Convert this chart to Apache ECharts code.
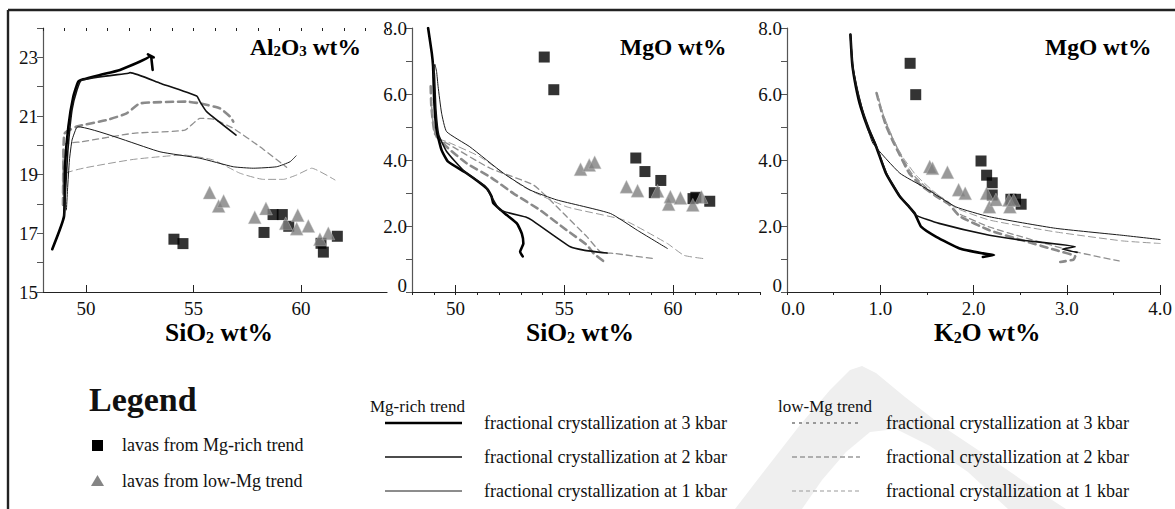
<!DOCTYPE html>
<html><head><meta charset="utf-8">
<script src="https://cdn.jsdelivr.net/npm/echarts@6/dist/echarts.min.js"></script>
<style>html,body{margin:0;padding:0;background:#fff}#c{width:1175px;height:509px}</style>
</head><body><div id="c"></div>
<script>
// ---------------- DATA ----------------
// Panel 1: SiO2 vs Al2O3
const alLavasMgRich = [[54.09,16.80],[54.51,16.65],[58.28,17.03],[58.70,17.64],[59.13,17.64],[59.43,17.24],[60.93,16.66],[61.04,16.36],[61.69,16.90]];
const alLavasLowMg = [[55.75,18.39],[56.17,17.93],[56.40,18.10],[57.85,17.55],[58.37,17.85],[59.29,17.34],[59.80,17.16],[59.85,17.62],[60.34,17.25],[60.88,16.80],[61.27,17.00]];
const alFc3MgRich = [[48.43,16.46],[48.98,17.59],[49.02,19.27],[49.18,20.64],[49.41,21.66],[49.64,22.17],[49.87,22.25],[50.65,22.40],[51.58,22.57],[52.98,23.05],[52.88,23.10],[53.15,23.00],[53.03,23.04],[53.10,22.57]];
const alFc2MgRich = [[48.98,17.59],[49.05,18.48],[49.16,19.84],[49.35,21.21],[49.58,21.89],[49.80,22.23],[51.97,22.46],[52.05,22.48],[53.44,22.12],[55.15,21.68],[55.30,21.49],[55.61,21.15],[56.98,20.35]];
const alFc1MgRich = [[49.09,17.80],[49.14,18.48],[49.23,19.50],[49.35,20.18],[49.55,20.59],[49.63,20.63],[53.44,19.78],[55.30,19.56],[56.85,19.27],[57.78,19.22],[58.87,19.27],[59.49,19.44],[59.77,19.64]];
const alFc3LowMg = [[48.93,17.97],[48.95,19.50],[49.00,20.40],[49.57,20.64],[50.96,20.86],[51.89,21.09],[52.51,21.43],[54.68,21.49],[55.30,21.43],[56.23,21.26],[56.70,20.98],[56.85,20.81]];
const alFc2LowMg = [[48.93,17.97],[48.94,20.01],[49.80,20.12],[52.20,20.41],[54.60,20.52],[55.30,20.92],[55.92,20.89],[56.85,20.58],[58.09,19.95],[59.33,19.25]];
const alFc1LowMg = [[48.93,17.97],[48.94,18.99],[49.87,19.22],[52.20,19.52],[54.53,19.67],[55.92,19.50],[57.16,19.05],[58.25,18.84],[59.18,18.84],[59.80,18.99],[60.50,19.22],[61.58,18.82]];

// Panel 2: SiO2 vs MgO
const mgLavasMgRich = [[54.08,7.12],[54.52,6.13],[58.29,4.06],[58.71,3.65],[59.44,3.38],[59.14,3.01],[60.92,2.83],[61.05,2.87],[61.69,2.75]];
const mgLavasLowMg = [[55.75,3.72],[56.15,3.85],[56.40,3.93],[57.86,3.19],[58.37,3.07],[59.29,3.06],[59.80,2.66],[59.88,2.89],[60.34,2.85],[60.91,2.64],[61.31,2.88]];
const mgFc3MgRich = [[48.74,8.0],[48.91,7.24],[48.97,6.83],[49.02,5.82],[49.13,4.91],[49.36,4.30],[49.66,3.95],[50.51,3.60],[51.43,3.14],[51.66,2.89],[51.74,2.69],[52.36,2.33],[52.82,2.08],[53.05,1.77],[53.12,1.47],[52.97,1.22],[53.09,1.08]];
const mgFc2MgRich = [[48.97,6.94],[49.03,6.60],[49.10,5.52],[49.23,4.76],[49.60,4.25],[50.43,3.64],[51.36,3.21],[51.74,2.79],[52.05,2.48],[53.28,2.26],[53.51,2.18],[55.28,1.37],[55.89,1.27],[56.97,1.18]];
const mgFc1MgRich = [[48.97,6.50],[49.05,6.90],[49.13,6.68],[49.20,6.23],[49.36,5.42],[49.59,4.86],[50.66,4.40],[52.20,3.60],[53.43,3.09],[54.66,2.79],[57.12,2.38],[58.36,1.87],[59.74,1.32]];
const mgFc3LowMg = [[48.86,6.23],[48.89,5.62],[49.05,4.81],[49.59,4.40],[50.51,3.90],[51.59,3.49],[52.66,2.99],[53.89,2.48],[55.12,1.87],[56.05,1.42],[56.35,1.17],[56.79,0.94]];
const mgFc2LowMg = [[48.88,5.90],[48.95,5.20],[49.10,4.70],[49.59,4.51],[51.59,3.75],[53.59,3.24],[54.82,2.48],[55.12,2.28],[56.05,1.67],[56.66,1.22],[57.28,1.17],[59.12,1.01]];
const mgFc1LowMg = [[48.90,5.60],[49.00,5.00],[49.20,4.65],[49.59,4.56],[51.12,4.10],[53.12,3.19],[55.12,2.58],[57.74,2.18],[59.74,1.47],[60.51,1.11],[61.43,1.01]];

// Panel 3: K2O vs MgO
const kLavasMgRich = [[1.32,6.93],[1.38,5.98],[2.08,3.97],[2.14,3.54],[2.20,3.31],[2.20,2.94],[2.40,2.81],[2.45,2.81],[2.51,2.66]];
const kLavasLowMg = [[1.53,3.80],[1.56,3.75],[1.72,3.63],[1.84,3.10],[1.91,2.99],[2.14,2.99],[2.17,2.58],[2.24,2.80],[2.38,2.79],[2.39,2.58],[2.43,2.79]];
const kFc3MgRich = [[0.68,7.80],[0.70,6.90],[0.74,6.20],[0.79,5.60],[0.87,4.95],[0.95,4.45],[1.06,3.60],[1.21,2.89],[1.31,2.58],[1.37,2.38],[1.44,1.97],[1.60,1.67],[1.85,1.32],[2.10,1.17],[2.22,1.12],[2.10,1.06]];
const kFc2MgRich = [[0.68,7.80],[0.70,6.90],[0.745,6.20],[0.80,5.60],[0.88,4.95],[0.96,4.40],[1.07,3.58],[1.20,2.95],[1.30,2.62],[1.38,2.33],[1.63,2.08],[2.17,1.72],[2.52,1.57],[3.09,1.37],[2.95,1.30],[3.11,1.20]];
const kFc1MgRich = [[0.68,7.80],[0.71,6.80],[0.76,6.10],[0.84,5.20],[0.92,4.51],[1.21,3.60],[1.46,3.19],[1.81,2.58],[2.17,2.28],[2.88,1.93],[3.59,1.72],[4.00,1.59]];
const kFc3LowMg = [[0.96,6.03],[1.01,5.50],[1.06,5.05],[1.13,4.60],[1.21,4.15],[1.31,3.60],[1.45,3.20],[1.60,2.90],[1.74,2.65],[1.85,2.30],[2.17,1.87],[2.52,1.57],[2.88,1.27],[3.09,1.08],[3.07,0.98],[2.93,0.91]];
const kFc2LowMg = [[0.97,5.95],[1.02,5.45],[1.08,5.00],[1.15,4.55],[1.22,4.15],[1.33,3.62],[1.50,3.15],[1.74,2.70],[1.81,2.42],[2.17,1.97],[2.52,1.67],[3.09,1.22],[3.56,0.94]];
const kFc1LowMg = [[0.98,5.90],[1.03,5.40],[1.10,4.90],[1.17,4.45],[1.25,4.05],[1.38,3.55],[1.55,3.10],[1.81,2.55],[2.17,2.18],[2.88,1.82],[3.59,1.55],[4.00,1.47]];

// tick labels
const siTickLabels = [50,55,60];
const alTickLabels = [15,17,19,21,23];
const mgTickLabels = [0,2,4,6,8];
const kTickLabels = [0,1,2,3,4];

// texts
const panelTitles = [['Al','2','O','3',' wt%'],['MgO wt%'],['MgO wt%']];
const axisNames = [['SiO','2',' wt%'],['SiO','2',' wt%'],['K','2','O wt%']];
const legendTitle = 'Legend';
const pointLegend = ['lavas from Mg-rich trend','lavas from low-Mg trend'];
const trendHeads = ['Mg-rich trend','low-Mg trend'];
const fcLabels = ['fractional crystallization at 3 kbar','fractional crystallization at 2 kbar','fractional crystallization at 1 kbar'];

// ---------------- STYLE ----------------
const FONT = "'Liberation Serif','Times New Roman',serif";
const solidStyles = [{width:2.6,color:'#000'},{width:1.6,color:'#111'},{width:1,color:'#1a1a1a'}];
const dashStyles = [{width:2.6,color:'#8a8a8a',type:[7,5]},{width:1.3,color:'#8f8f8f',type:[6,4]},{width:1,color:'#9a9a9a',type:[7,4]}];

const grids = [
  {left:43, top:28, width:344, height:264},
  {left:412, top:28, width:348, height:264},
  {left:787, top:28, width:375, height:264}
];

const TICKFS = 19;
const labelRich = {
  n:{fontFamily:FONT, fontSize:TICKFS, color:'#111'},
  z:{fontFamily:FONT, fontSize:TICKFS, color:'#111', padding:[0,0,14,0]},
  zx:{fontFamily:FONT, fontSize:TICKFS, color:'#111', padding:[0,0,0,12]}
};

function mainX(g, min, max, interval, majorTicks, fmt){
  return {type:'value', gridIndex:g, min, max, interval,
    axisLine:{show:true, onZero:false, lineStyle:{color:'#222', width:1.2}},
    axisTick:{show:true, inside:true, length:7, customValues:majorTicks, lineStyle:{color:'#222'}},
    axisLabel:{show:true, margin:7, formatter:fmt, fontFamily:FONT, fontSize:TICKFS, color:'#111', rich:labelRich, showMinLabel:true, showMaxLabel:true, hideOverlap:false},
    splitLine:{show:false}};
}
function minorX(g, min, max, interval){
  return {type:'value', gridIndex:g, min, max, interval,
    axisLine:{show:false}, axisTick:{show:true, inside:true, length:3, lineStyle:{color:'#222'}},
    axisLabel:{show:false}, splitLine:{show:false}};
}
function mainY(g, min, max, fmt){
  return {type:'value', gridIndex:g, min, max, interval:1,
    axisLine:{show:true, onZero:false, lineStyle:{color:'#555', width:1.2}},
    axisTick:{show:true, inside:false, length:6, lineStyle:{color:'#555'}},
    axisLabel:{show:true, margin:5, formatter:fmt, fontFamily:FONT, fontSize:TICKFS, color:'#111', rich:labelRich, showMinLabel:true, showMaxLabel:true, hideOverlap:false},
    splitLine:{show:false}};
}

const siFmt = v => siTickLabels.includes(v) ? '{n|'+v+'}' : '';
const kFmt = v => kTickLabels.includes(v) ? (v===0 ? '{zx|0.0}' : '{n|'+v.toFixed(1)+'}') : '';
const alFmt = v => alTickLabels.includes(v) ? '{n|'+v+'}' : '';
const mgFmt = v => mgTickLabels.includes(v) ? (v===0 ? '{z|0}' : '{n|'+v.toFixed(1)+'}') : '';

const xAxis = [
  mainX(0,48,64,1,[50,55,60],siFmt),
  minorX(0,48,64,1),
  mainX(1,48,64,1,[50,55,60],siFmt),
  minorX(1,48,64,1),
  mainX(2,0,4,1,[1,2,3,4],kFmt),
  minorX(2,0,4,0.5)
];
const yAxis = [
  mainY(0,15,24,alFmt),
  mainY(1,0,8,mgFmt),
  mainY(2,0,8,mgFmt)
];

function lineS(data, xi, yi, ls){
  return {type:'line', data, xAxisIndex:xi, yAxisIndex:yi, symbol:'none', smooth:0.15, silent:true,
    lineStyle:Object.assign({cap:'round', join:'round'}, ls), z:2};
}
function sqS(data, xi, yi){
  return {type:'scatter', data, xAxisIndex:xi, yAxisIndex:yi, symbol:'rect', symbolSize:11,
    itemStyle:{color:'#000', borderWidth:0}, z:3};
}
function triS(data, xi, yi){
  return {type:'scatter', data, xAxisIndex:xi, yAxisIndex:yi, symbol:'triangle', symbolSize:13,
    itemStyle:{color:'#808080', borderColor:'#c8c8c8', borderWidth:0.5}, z:4};
}

const panels = [
  {xi:0, yi:0, solids:[alFc3MgRich,alFc2MgRich,alFc1MgRich], dashes:[alFc3LowMg,alFc2LowMg,alFc1LowMg], sq:alLavasMgRich, tri:alLavasLowMg},
  {xi:2, yi:1, solids:[mgFc3MgRich,mgFc2MgRich,mgFc1MgRich], dashes:[mgFc3LowMg,mgFc2LowMg,mgFc1LowMg], sq:mgLavasMgRich, tri:mgLavasLowMg},
  {xi:4, yi:2, solids:[kFc3MgRich,kFc2MgRich,kFc1MgRich], dashes:[kFc3LowMg,kFc2LowMg,kFc1LowMg], sq:kLavasMgRich, tri:kLavasLowMg}
];
const series = [];
panels.forEach(p=>{
  p.dashes.forEach((d,i)=>series.push(lineS(d,p.xi,p.yi,dashStyles[i])));
  p.solids.forEach((d,i)=>series.push(lineS(d,p.xi,p.yi,solidStyles[i])));
  series.push(sqS(p.sq,p.xi,p.yi));
  series.push(triS(p.tri,p.xi,p.yi));
});

function richFor(big, small){
  return {
    b:{fontFamily:FONT, fontWeight:'bold', fontSize:big, color:'#000', verticalAlign:'bottom', lineHeight:big+4},
    s:{fontFamily:FONT, fontWeight:'bold', fontSize:small, color:'#000', verticalAlign:'bottom', lineHeight:big+4}
  };
}
function richText(parts){
  return parts.map(t=> (/^\d$/.test(t) ? '{s|'+t+'}' : '{b|'+t+'}')).join('');
}
const titleRich = richFor(23.5, 15);
const nameRich = richFor(25.5, 16);
const titles = [
  {text:richText(panelTitles[0]), left:250, top:31, textStyle:{rich:titleRich}},
  {text:richText(panelTitles[1]), left:620, top:31, textStyle:{rich:titleRich}},
  {text:richText(panelTitles[2]), left:1045, top:31, textStyle:{rich:titleRich}},
  {text:richText(axisNames[0]), left:165, top:316, textStyle:{rich:nameRich}},
  {text:richText(axisNames[1]), left:526, top:316, textStyle:{rich:nameRich}},
  {text:richText(axisNames[2]), left:934, top:316, textStyle:{rich:nameRich}}
].map(t=>Object.assign({padding:0, itemGap:0}, t));

// legend block drawn with graphic elements
const tStyle = (text, size, weight) => ({text, fontFamily:FONT, fontSize:size, fontWeight:weight||'normal', fill:'#111', verticalAlign:'middle', align:'left'});
const rowsY = [423,457,491];
const graphic = [
  // faint background watermark
  {type:'polygon', z:-10, silent:true, shape:{points:[[735,509],[765,470],[800,425],[830,390],[850,370],[862,366],[876,373],[905,397],[945,428],[990,458],[1032,487],[1066,509]]}, style:{fill:'#efefef'}},
  {type:'polygon', z:-9, silent:true, shape:{points:[[802,509],[822,480],[846,452],[870,432],[896,429],[930,446],[968,472],[1008,509]]}, style:{fill:'#ffffff'}},
  {type:'line', shape:{x1:8, y1:10, x2:1175, y2:10}, style:{stroke:'#222', lineWidth:2.4}},
  {type:'line', shape:{x1:8, y1:10, x2:8, y2:509}, style:{stroke:'#222', lineWidth:2.4}},
  {type:'text', x:89, y:399, style:tStyle(legendTitle,34,'bold')},
  {type:'rect', shape:{x:92, y:440, width:11, height:11}, style:{fill:'#000'}},
  {type:'polygon', shape:{points:[[97.5,475],[104,486],[91,486]]}, style:{fill:'#858585'}},
  {type:'text', x:122, y:445, style:tStyle(pointLegend[0],18)},
  {type:'text', x:122, y:481, style:tStyle(pointLegend[1],18)},
  {type:'text', x:370, y:406, style:tStyle(trendHeads[0],17)},
  {type:'text', x:778, y:406, style:tStyle(trendHeads[1],17)}
];
rowsY.forEach((y,i)=>{
  graphic.push({type:'line', shape:{x1:385, y1:y, x2:462, y2:y}, style:{stroke:solidStyles[i].color, lineWidth:solidStyles[i].width}});
  graphic.push({type:'text', x:484, y:y, style:tStyle(fcLabels[i],18)});
  const dl = [[3,4],[5,3],[4,3]][i];
  graphic.push({type:'line', shape:{x1:792, y1:y, x2:860, y2:y}, style:{stroke:'#999', lineWidth:[2,1.3,1][i], lineDash:dl}});
  graphic.push({type:'text', x:886, y:y, style:tStyle(fcLabels[i],18)});
});

const chart = echarts.init(document.getElementById('c'), null, {renderer:'svg'});
chart.setOption({
  animation:false,
  backgroundColor:'#fff',
  title:titles,
  grid:grids,
  xAxis, yAxis, series, graphic
});
</script></body></html>
